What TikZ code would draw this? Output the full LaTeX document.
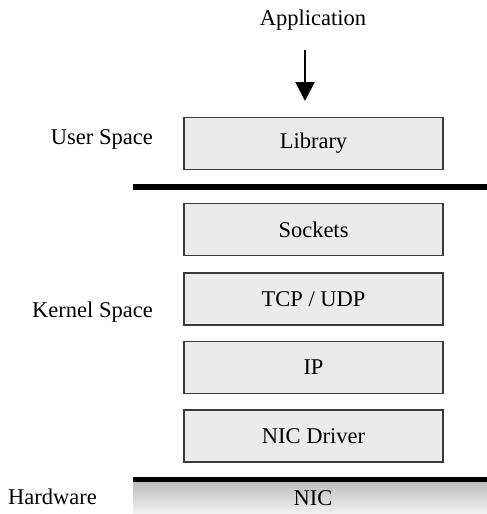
\documentclass[tikz,border=0pt]{standalone}
\usepackage{fontspec}
\setmainfont{Liberation Serif}
\usetikzlibrary{arrows.meta}
\definecolor{boxfill}{HTML}{EBEBEB}
\definecolor{boxline}{HTML}{3A3A3A}
\definecolor{nictop}{HTML}{BEBEBE}
\definecolor{nicbot}{HTML}{F2F2F2}
\begin{document}
\begin{tikzpicture}[x=1pt,y=-1pt,
  every node/.style={font=\fontsize{22.5}{27}\selectfont, inner sep=0pt},
  layer/.style={draw=boxline, line width=1.3pt, fill=boxfill, minimum width=259pt, minimum height=52pt},
  sep/.style={line width=6pt, black},
  lbl/.style={anchor=east}]
\useasboundingbox (0,0) rectangle (487,514);
% gradient hardware band
\shade[top color=nictop, bottom color=nicbot] (133,482) rectangle (487,514);
\node (app) at (313,20) {Application};
\coordinate (arrS) at (305,50);
\coordinate (arrE) at (305,101);
\draw[line width=2pt, -{Triangle[width=19pt,length=19pt]}] (arrS) -- (arrE);
\node[layer] (lib) at (313.5,143.5) {Library};
\node[layer] (sock) at (313.5,229.5) {Sockets};
\node[layer] (tcp) at (313.5,299) {TCP / UDP};
\node[layer] (ip) at (313.5,367.5) {IP};
\node[layer] (drv) at (313.5,436) {NIC Driver};
\coordinate (s1a) at (133,186.5);
\coordinate (s1b) at (487,186.5);
\draw[sep] (s1a) -- (s1b);
\coordinate (s2a) at (133,479.5);
\coordinate (s2b) at (487,479.5);
\draw[line width=5pt] (s2a) -- (s2b);
\node (nic) at (313,498) {NIC};
\node[lbl] (us) at (153,139) {User Space};
\node[lbl] (ks) at (153,312) {Kernel Space};
\node[anchor=west] (hw) at (8,497) {Hardware};
\end{tikzpicture}
\end{document}
